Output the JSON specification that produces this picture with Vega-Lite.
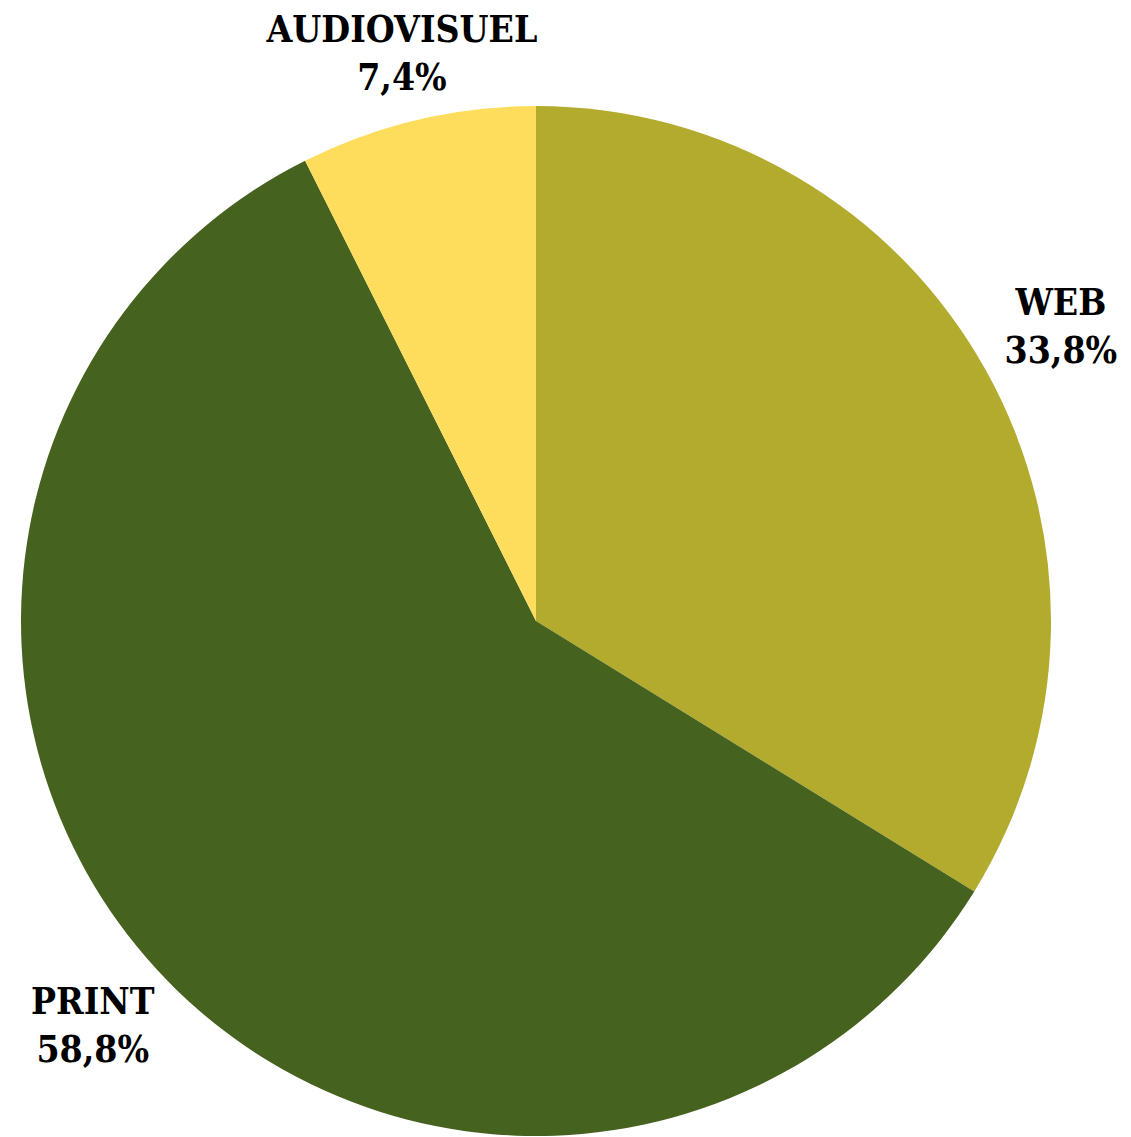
{
  "$schema": "https://vega.github.io/schema/vega-lite/v6.json",
  "autosize": {"type": "none"},
  "width": 1030,
  "height": 1032,
  "padding": {"left": 21, "top": 105, "right": 80, "bottom": 0},
  "background": "white",
  "data": {"values": [
    {"category": "WEB", "share": 33.8, "pct": "33,8%"},
    {"category": "PRINT", "share": 58.8, "pct": "58,8%"},
    {"category": "AUDIOVISUEL", "share": 7.4, "pct": "7,4%"}
  ]},
  "encoding": {
    "theta": {"field": "share", "type": "quantitative", "stack": true},
    "order": {"field": "category", "sort": "descending"},
    "color": {
      "field": "category", "type": "nominal", "legend": null,
      "scale": {"domain": ["WEB", "PRINT", "AUDIOVISUEL"], "range": ["#b3ab2e", "#45621e", "#ffdd5c"]}
    }
  },
  "view": {"stroke": null},
  "layer": [
    {"mark": {"type": "arc", "outerRadius": 515}},
    {
      "mark": {"type": "text", "radius": 601, "dy": -24, "font": "DejaVu Serif Condensed, DejaVu Serif", "fontWeight": "bold", "fontSize": 37, "fill": "black", "baseline": "middle", "align": "center"},
      "encoding": {
        "text": {"condition": {"test": "datum.category !== 'AUDIOVISUEL'", "field": "category"}, "value": ""},
        "color": {"value": "black"}
      }
    },
    {
      "mark": {"type": "text", "radius": 601, "dy": 24, "font": "DejaVu Serif Condensed, DejaVu Serif", "fontWeight": "bold", "fontSize": 37, "fill": "black", "baseline": "middle", "align": "center"},
      "encoding": {
        "text": {"condition": {"test": "datum.category !== 'AUDIOVISUEL'", "field": "pct"}, "value": ""},
        "color": {"value": "black"}
      }
    },
    {
      "mark": {"type": "text", "radius": 582, "dy": -24, "font": "DejaVu Serif Condensed, DejaVu Serif", "fontWeight": "bold", "fontSize": 37, "fill": "black", "baseline": "middle", "align": "center"},
      "encoding": {
        "text": {"condition": {"test": "datum.category === 'AUDIOVISUEL'", "field": "category"}, "value": ""},
        "color": {"value": "black"}
      }
    },
    {
      "mark": {"type": "text", "radius": 582, "dy": 24, "font": "DejaVu Serif Condensed, DejaVu Serif", "fontWeight": "bold", "fontSize": 37, "fill": "black", "baseline": "middle", "align": "center"},
      "encoding": {
        "text": {"condition": {"test": "datum.category === 'AUDIOVISUEL'", "field": "pct"}, "value": ""},
        "color": {"value": "black"}
      }
    }
  ]
}
